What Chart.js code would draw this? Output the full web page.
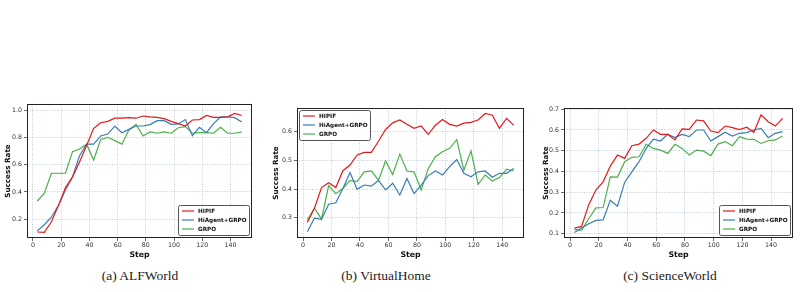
<!DOCTYPE html>
<html lang="en">
<head>
    <meta charset="UTF-8">
    <title>Success rate curves</title>
    <script src="https://cdn.jsdelivr.net/npm/chart.js@4/dist/chart.umd.min.js"></script>
    <style>
        body { margin: 0; background: #fff; width: 801px; height: 292px; position: relative; overflow: hidden; }
        .panel { position: absolute; }
        .cap { position: absolute; top: 268px; font-family: "Liberation Serif", serif; font-size: 13.5px; color: #222; transform: translateX(-50%); white-space: nowrap; }
    </style>
</head>
<body>

<div class="panel" style="left:0px;top:98px;width:256px;height:162px"><canvas id="alf"></canvas></div>
<div class="panel" style="left:265px;top:98px;width:263px;height:162px"><canvas id="vh"></canvas></div>
<div class="panel" style="left:530px;top:98px;width:267px;height:162px"><canvas id="sw"></canvas></div>

<div class="cap" style="left:140px">(a) ALFWorld</div>
<div class="cap" style="left:386px">(b) VirtualHome</div>
<div class="cap" style="left:670px">(c) ScienceWorld</div>

<script>
    const steps = [3, 8, 13, 18, 23, 28, 33, 38, 43, 48, 53, 58, 63, 68, 73,
                   78, 83, 88, 93, 98, 103, 108, 113, 118, 123, 128, 133, 138, 143, 148];
    const seriesNames = ['HIPIF', 'HiAgent+GRPO', 'GRPO'];
    const stepTicks = [0, 20, 40, 60, 80, 100, 120, 140];

    // (a) ALFWorld
    const alfHipif = [0.107, 0.105, 0.18, 0.30, 0.43, 0.51, 0.62, 0.74, 0.866, 0.907,
                      0.917, 0.94, 0.94, 0.944, 0.94, 0.956, 0.95, 0.946, 0.937, 0.917,
                      0.90, 0.883, 0.927, 0.93, 0.96, 0.946, 0.946, 0.95, 0.975, 0.96];
    const alfHiagent = [0.115, 0.16, 0.215, 0.30, 0.415, 0.51, 0.665, 0.75, 0.75, 0.81,
                        0.824, 0.883, 0.834, 0.858, 0.883, 0.883, 0.893, 0.922, 0.922, 0.895,
                        0.898, 0.93, 0.812, 0.873, 0.834, 0.90, 0.95, 0.95, 0.944, 0.912];
    const alfGrpo = [0.334, 0.39, 0.537, 0.537, 0.537, 0.695, 0.715, 0.75, 0.634, 0.785,
                     0.80, 0.776, 0.75, 0.854, 0.895, 0.81, 0.84, 0.83, 0.84, 0.83,
                     0.87, 0.878, 0.83, 0.834, 0.834, 0.83, 0.873, 0.83, 0.83, 0.84];
    const alfTicks = [0.2, 0.4, 0.6, 0.8, 1.0];

    // (b) VirtualHome
    const vhHipif = [0.283, 0.333, 0.405, 0.422, 0.405, 0.464, 0.484, 0.519, 0.528, 0.528,
                     0.567, 0.608, 0.631, 0.641, 0.626, 0.612, 0.62, 0.591, 0.623, 0.643,
                     0.626, 0.62, 0.63, 0.633, 0.641, 0.664, 0.658, 0.612, 0.647, 0.623];
    const vhHiagent = [0.251, 0.298, 0.294, 0.347, 0.352, 0.402, 0.458, 0.399, 0.414, 0.41,
                       0.43, 0.397, 0.42, 0.379, 0.437, 0.384, 0.414, 0.447, 0.463, 0.449,
                       0.478, 0.503, 0.455, 0.443, 0.46, 0.463, 0.441, 0.455, 0.455, 0.472];
    const vhGrpo = [0.292, 0.333, 0.295, 0.412, 0.384, 0.402, 0.43, 0.426, 0.46, 0.463,
                    0.431, 0.498, 0.451, 0.522, 0.463, 0.46, 0.397, 0.472, 0.513, 0.53,
                    0.542, 0.573, 0.466, 0.533, 0.416, 0.449, 0.428, 0.44, 0.469, 0.463];
    const vhTicks = [0.3, 0.4, 0.5, 0.6];

    // (c) ScienceWorld
    const swHipif = [0.127, 0.135, 0.24, 0.31, 0.35, 0.426, 0.479, 0.463, 0.524, 0.532,
                     0.56, 0.60, 0.579, 0.579, 0.552, 0.605, 0.603, 0.648, 0.644, 0.595,
                     0.587, 0.619, 0.611, 0.602, 0.613, 0.589, 0.673, 0.64, 0.619, 0.656];
    const swHiagent = [0.105, 0.127, 0.148, 0.164, 0.166, 0.261, 0.232, 0.347, 0.398, 0.447,
                       0.511, 0.556, 0.547, 0.579, 0.563, 0.579, 0.568, 0.60, 0.60, 0.547,
                       0.568, 0.589, 0.571, 0.584, 0.587, 0.60, 0.608, 0.563, 0.584, 0.592];
    const swGrpo = [0.121, 0.116, 0.173, 0.224, 0.226, 0.374, 0.373, 0.447, 0.468, 0.471,
                    0.531, 0.511, 0.503, 0.487, 0.531, 0.511, 0.479, 0.503, 0.498, 0.476,
                    0.532, 0.544, 0.524, 0.568, 0.556, 0.555, 0.535, 0.548, 0.552, 0.571];
    const swTicks = [0.1, 0.2, 0.3, 0.4, 0.5, 0.6, 0.7];

    const colors = ['#e41a1c', '#377eb8', '#4daf4a'];
    const FONT = 'DejaVu Sans';

    // black frame around the plot area
    const framePlugin = {
        id: 'frame',
        afterDraw(chart) {
            const a = chart.chartArea, ctx = chart.ctx;
            ctx.save();
            ctx.strokeStyle = '#222';
            ctx.lineWidth = 1;
            ctx.strokeRect(Math.round(a.left) + 0.5, Math.round(a.top) + 0.5,
                           Math.round(a.width) - 1, Math.round(a.height) - 1);
            ctx.restore();
        }
    };

    // matplotlib-like boxed legend inside the plot area
    const boxLegend = {
        id: 'boxLegend',
        afterDraw(chart, args, opts) {
            const a = chart.chartArea, ctx = chart.ctx;
            const w = 71, h = 30;
            const x = opts.corner === 'tl' ? a.left + 2 : a.right - w - 3;
            const y = opts.corner === 'tl' ? a.top + 2 : a.bottom - h - 3;
            ctx.save();
            ctx.fillStyle = 'rgba(255,255,255,0.85)';
            ctx.strokeStyle = '#555';
            ctx.lineWidth = 1;
            ctx.beginPath();
            ctx.roundRect(x + 0.5, y + 0.5, w, h, 2);
            ctx.fill();
            ctx.stroke();
            ctx.font = 'bold 5.7px "' + FONT + '"';
            ctx.textBaseline = 'middle';
            chart.data.datasets.forEach((ds, i) => {
                const ry = y + 6 + i * 9;
                ctx.strokeStyle = ds.borderColor;
                ctx.lineWidth = 1.2;
                ctx.beginPath();
                ctx.moveTo(x + 4, ry);
                ctx.lineTo(x + 16, ry);
                ctx.stroke();
                ctx.fillStyle = '#111';
                ctx.fillText(ds.label, x + 20, ry + 0.5);
            });
            ctx.restore();
        }
    };

    function draw(id, series, yTicks, yMin, yMax, yWidth, titleGap, pad, corner) {
        const datasets = series.map((vals, i) => ({
            label: seriesNames[i],
            data: vals.map((v, k) => ({x: steps[k], y: v})),
            borderColor: colors[i],
            borderWidth: 1.2,
            pointRadius: 0,
            tension: 0,
            fill: false
        }));
        const grid = {
            color: '#aebfd6',
            lineWidth: 0.8,
            drawTicks: true,
            tickLength: 3,
            tickColor: '#444',
            tickBorderDash: []
        };
        const border = {display: false, dash: [1, 1.5]};
        new Chart(id, {
            type: 'line',
            data: {datasets: datasets},
            plugins: [framePlugin, boxLegend],
            options: {
                responsive: true,
                maintainAspectRatio: false,
                animation: false,
                layout: {padding: pad},
                plugins: {
                    legend: {display: false},
                    tooltip: {enabled: false},
                    boxLegend: {corner: corner}
                },
                scales: {
                    x: {
                        type: 'linear',
                        min: -4.25,
                        max: 155.25,
                        afterBuildTicks: s => { s.ticks = stepTicks.map(v => ({value: v})); },
                        afterFit: s => { s.height = 22; },
                        grid: grid,
                        border: border,
                        ticks: {font: {family: FONT, size: 6.3}, color: '#333', padding: 1, maxRotation: 0},
                        title: {display: true, text: 'Step', font: {family: FONT, size: 7.8, weight: 'bold'},
                                color: '#111', padding: {top: 0, bottom: 0}}
                    },
                    y: {
                        min: yMin,
                        max: yMax,
                        afterBuildTicks: s => { s.ticks = yTicks.map(v => ({value: v})); },
                        afterFit: s => { s.width = yWidth; },
                        grid: grid,
                        border: border,
                        ticks: {font: {family: FONT, size: 6.3}, color: '#333', padding: 2,
                                callback: v => v.toFixed(1)},
                        title: {display: true, text: 'Success Rate', font: {family: FONT, size: 7.2, weight: 'bold'},
                                color: '#111', padding: {top: titleGap, bottom: 2}}
                    }
                }
            }
        });
    }

    draw('alf', [alfHipif, alfHiagent, alfGrpo], alfTicks, 0.063, 1.044, 27, 4,
         {top: 6, right: 4, left: 0, bottom: 0}, 'br');
    draw('vh', [vhHipif, vhHiagent, vhGrpo], vhTicks, 0.229, 0.683, 32, 7,
         {top: 10, right: 4, left: 0, bottom: 0}, 'tl');
    draw('sw', [swHipif, swHiagent, swGrpo], swTicks, 0.079, 0.706, 34, 12,
         {top: 10, right: 4, left: 0, bottom: 0}, 'br');
</script>

</body>
</html>
